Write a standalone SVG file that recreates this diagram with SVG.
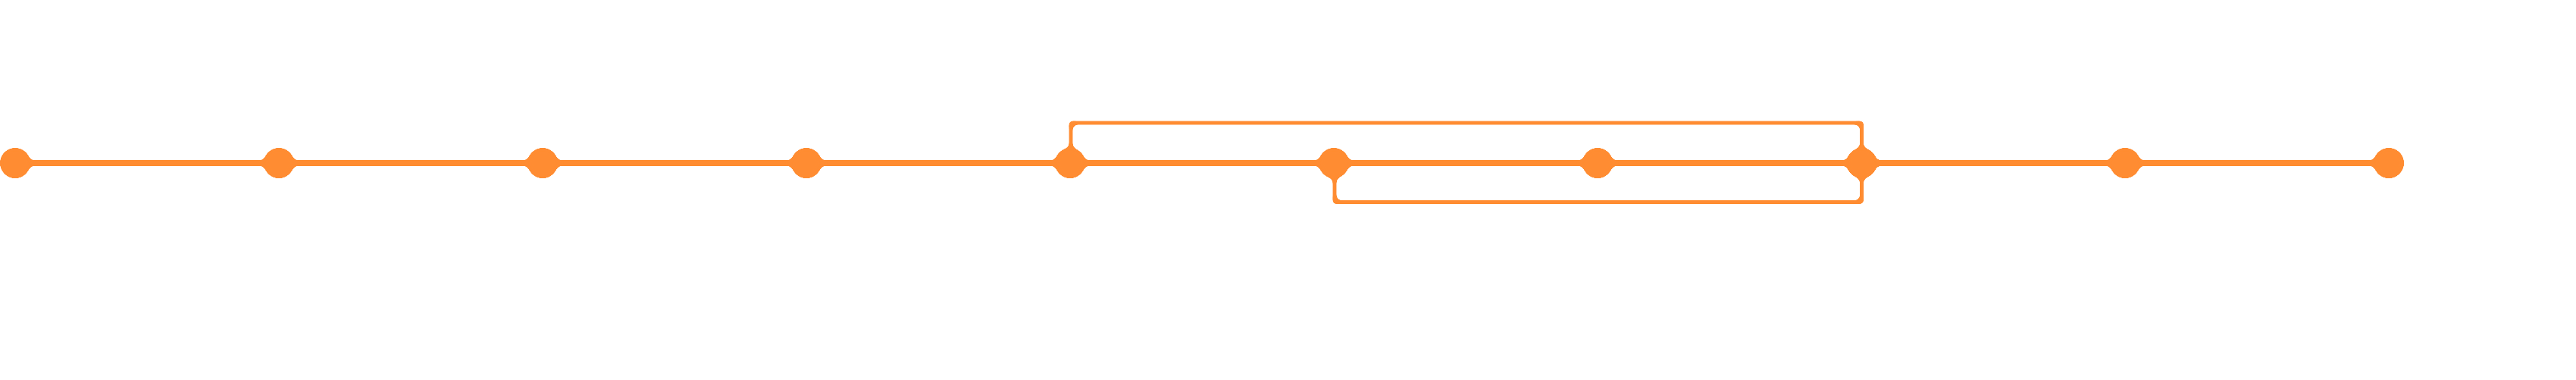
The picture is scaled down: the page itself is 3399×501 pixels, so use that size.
<svg xmlns="http://www.w3.org/2000/svg" width="3399" height="501" viewBox="0 0 3399 501">
  <style>
    .main { fill: none; stroke: #FF8C33; stroke-width: 8; }
    .branch { fill: none; stroke: #FF8C33; stroke-width: 6; stroke-linejoin: miter; }
    .commit { fill: #FF8C33; }
  </style>
  <defs>
    <filter id="goo" filterUnits="userSpaceOnUse" x="0" y="0" width="3399" height="501">
      <feGaussianBlur in="SourceGraphic" stdDeviation="3" result="blur"/>
      <feColorMatrix in="blur" type="matrix" values="1 0 0 0 0  0 1 0 0 0  0 0 1 0 0  0 0 0 20 -10"/>
    </filter>
  </defs>
  <rect width="3399" height="501" fill="#FFFFFF"/>
  <g filter="url(#goo)">
    <g id="connectors">
      <path class="main" d="M20,215 H3152"/>
      <path class="branch" d="M1413,215 V162 H2456.5 V215"/>
      <path class="branch" d="M1761,215 V266.5 H2456.5 V215"/>
    </g>
    <g id="commit-0"><circle class="commit" cx="20" cy="215" r="20.5"/></g>
    <g id="commit-1"><circle class="commit" cx="368" cy="215" r="20.5"/></g>
    <g id="commit-2"><circle class="commit" cx="716" cy="215" r="20.5"/></g>
    <g id="commit-3"><circle class="commit" cx="1064" cy="215" r="20.5"/></g>
    <g id="commit-4"><circle class="commit" cx="1412" cy="215" r="20.5"/></g>
    <g id="commit-5"><circle class="commit" cx="1760" cy="215" r="20.5"/></g>
    <g id="commit-6"><circle class="commit" cx="2108" cy="215" r="20.5"/></g>
    <g id="commit-7"><circle class="commit" cx="2456.5" cy="215" r="20.5"/></g>
    <g id="commit-8"><circle class="commit" cx="2804" cy="215" r="20.5"/></g>
    <g id="commit-9"><circle class="commit" cx="3152" cy="215" r="20.5"/></g>
  </g>
</svg>
